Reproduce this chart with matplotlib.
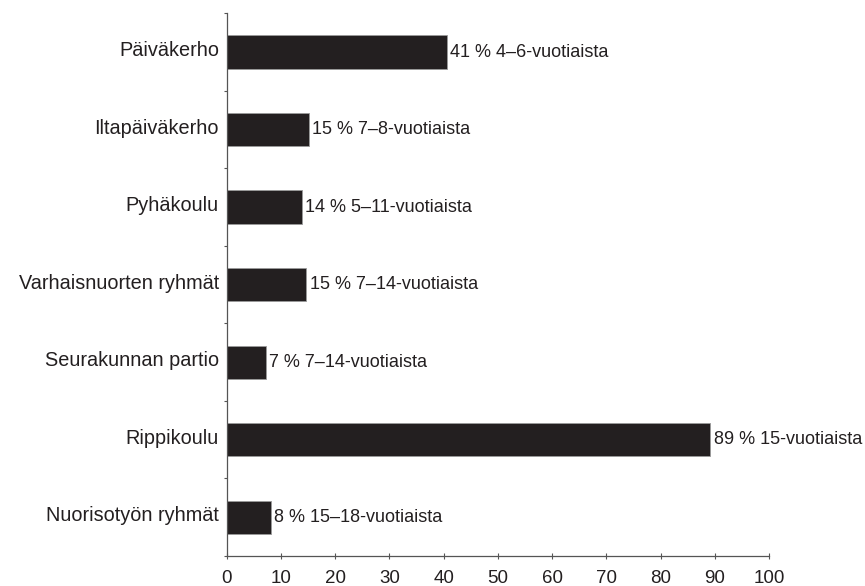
import numpy as np
import matplotlib
matplotlib.use('Agg')
import matplotlib.pyplot as plt
from matplotlib.transforms import ScaledTranslation

plt.rcParams['font.family'] = ['Liberation Sans', 'DejaVu Sans']

categories = ['Päiväkerho', 'Iltapäiväkerho', 'Pyhäkoulu', 'Varhaisnuorten ryhmät',
              'Seurakunnan partio', 'Rippikoulu', 'Nuorisotyön ryhmät']
values = [40.6, 15.1, 13.9, 14.7, 7.3, 89.2, 8.2]
bar_labels = ['41 % 4–6-vuotiaista', '15 % 7–8-vuotiaista', '14 % 5–11-vuotiaista',
              '15 % 7–14-vuotiaista', '7 % 7–14-vuotiaista', '89 % 15-vuotiaista',
              '8 % 15–18-vuotiaista']
xticks = np.arange(0, 101, 10)

fig = plt.figure(figsize=(8.65, 5.86), dpi=100)
ax = fig.add_axes([0.262, 0.0512, 0.627, 0.926])

y = np.arange(len(categories))
ax.barh(y, values, height=0.43, color='#231f20', edgecolor='#9a9a9a', linewidth=0.6)
for yi, v, lab in zip(y, values, bar_labels):
    ax.text(v + 0.6, yi, lab, va='center', ha='left', fontsize=13, color='#231f20')

ax.set_ylim(len(categories) - 0.5, -0.5)
ax.set_xlim(0, 100)
ax.set_yticks(y)
ax.set_yticklabels(categories, fontsize=14.3, color='#231f20')
ax.set_yticks(np.arange(-0.5, len(categories)), minor=True)
ax.tick_params(axis='y', which='major', length=0, pad=5.5)
ax.tick_params(axis='y', which='minor', length=2.5, width=0.8, color='#555555')
# labels sit slightly above the bar centres in the original
shift = ScaledTranslation(0, 2.5 / 72, fig.dpi_scale_trans)
for lbl in ax.get_yticklabels():
    lbl.set_transform(lbl.get_transform() + shift)

ax.set_xticks(xticks)
ax.set_xticklabels([str(t) for t in xticks], fontsize=13.5, color='#231f20')
ax.tick_params(axis='x', direction='inout', length=5, width=0.8, color='#555555', pad=7.5)

for side in ['top', 'right']:
    ax.spines[side].set_visible(False)
for side in ['left', 'bottom']:
    ax.spines[side].set_color('#555555')
    ax.spines[side].set_linewidth(0.9)

fig.savefig('out.png', dpi=100)
